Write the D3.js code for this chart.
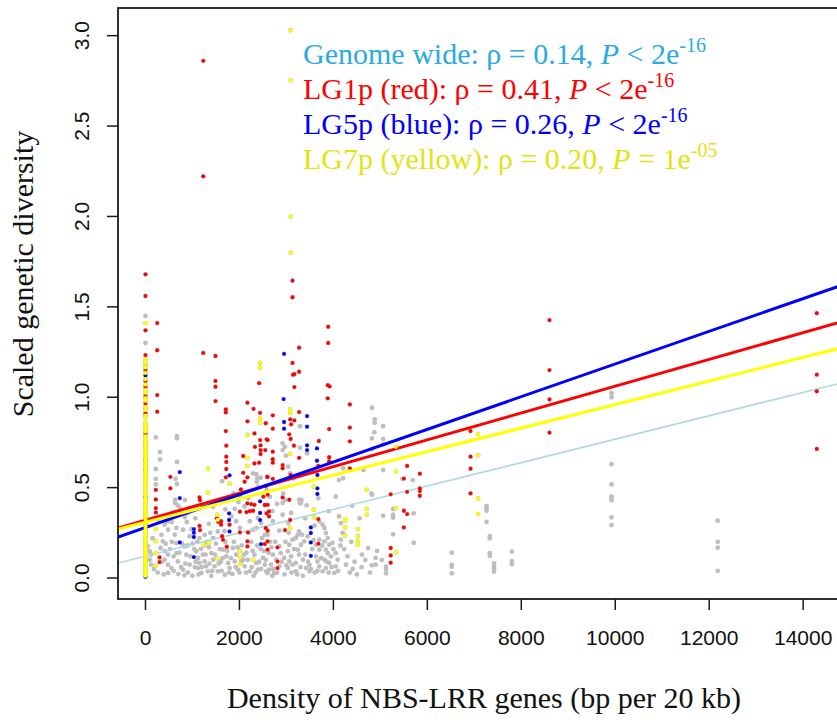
<!DOCTYPE html>
<html>
<head>
<meta charset="utf-8">
<script src="https://cdn.jsdelivr.net/npm/d3@7"></script>
<style>
  body { margin: 0; background: #fff; }
  svg { display: block; }
</style>
</head>
<body>
<svg id="chart" width="837" height="720"></svg>
<script>
// ---- data: [density of NBS-LRR genes (bp per 20 kb), scaled genetic diversity] ----

// genome-wide windows outside the three highlighted arms
const genomeOther = [
  [0,1.45],[0,1.30],[0,1.18],[0,0.94],[0,0.82],[0,0.71],[0,0.55],[0,0.37],[0,0.19],[0,0.08],
  [50,0.175],[90,0.148],[120,0.129],[90,0.101],[120,0.074],
  [220,0.778],[220,0.603],[220,0.548],[220,0.518],[310,0.697],[310,0.656],
  [670,0.785],[670,0.773],[670,0.642],[640,0.549],[670,0.52],
  [1630,0.536],[2360,0.574],[2380,0.551],[2450,0.555],
  [2920,0.745],[2970,0.726],[3290,0.84],[3290,0.721],[3440,0.69],[2920,0.708],[2990,0.677],[3040,0.616],[4210,0.607],
  [4820,0.942],[4880,0.878],[4880,0.859],[4870,0.806],[4820,0.773],[4820,0.713],[5060,0.84],[5060,0.77],[5060,0.739],
  [5060,0.597],[4640,0.597],[5470,0.548],[5690,0.542],[4810,0.468],[4820,0.461],
  [2190,0.441],[3310,0.415],[3270,0.433],[3430,0.402],[2920,0.415],[2920,0.35],[3040,0.304],[2850,0.262],[2710,0.314],
  [3700,0.314],[3770,0.295],[3810,0.277],[3840,0.249],[3880,0.221],[3810,0.203],[3910,0.184],[3840,0.157],[3880,0.138],
  [3950,0.12],[3810,0.101],[3910,0.083],[3840,0.055],[3770,0.037],[4020,0.028],[4050,0.138],[4090,0.101],[4050,0.065],
  [4160,0.212],[4120,0.341],[4160,0.304],
  [3700,0.212],[3630,0.184],[3700,0.157],[3630,0.12],[3660,0.092],[3700,0.065],[3660,0.04],[3490,0.074],[3420,0.055],
  [3350,0.101],[3270,0.129],[3240,0.157],[3310,0.184],[3380,0.203],[3200,0.221],[3240,0.239],[3270,0.258],[3130,0.212],
  [3060,0.184],[3030,0.148],[3100,0.12],[3060,0.092],[3030,0.055],[3130,0.074],[2950,0.111],[2880,0.138],[2850,0.175],
  [2780,0.101],[2710,0.129],[2670,0.074],[2630,0.046],[2600,0.028],[2740,0.028],[2850,0.065],[3200,0.083],[3200,0.037],
  [3490,0.037],[3980,0.194],[4270,0.074],
  [340,0.239],[370,0.203],[320,0.166],[410,0.148],[480,0.129],[410,0.101],[480,0.074],[550,0.055],[480,0.028],
  [660,0.194],[660,0.138],[690,0.092],[800,0.046],[830,0.175],[870,0.129],[940,0.074],[830,0.015],[1080,0.148],
  [1120,0.111],[1150,0.083],[1120,0.055],[1220,0.129],[1260,0.092],[1290,0.065],[1330,0.037],[1190,0.028],[1400,0.138],
  [1440,0.101],[1470,0.065],[1540,0.037],[1650,0.157],[1720,0.12],[1760,0.083],[1790,0.055],[1690,0.018],[1860,0.166],
  [1930,0.129],[1900,0.092],[1970,0.046],[2080,0.101],[2110,0.065],[2220,0.037],[2320,0.129],[2360,0.083],[2390,0.046],
  [2500,0.111],[2540,0.074],[2570,0.037],[2360,0.277],[2460,0.304],[2540,0.239],[2220,0.314],[2290,0.267],[2010,0.277],
  [1930,0.314],[1540,0.258],[1440,0.221],[1260,0.239],[1150,0.221],[940,0.231],[800,0.267],[660,0.277],[410,0.295],
  [480,0.267],[630,0.433],[690,0.402],[270,0.322],[480,0.314],[1830,0.341],[1900,0.383],[2110,0.397],[2390,0.332],[2570,0.36],
  [840,0.431],[630,0.415],[730,0.387],[590,0.36],[840,0.337],[880,0.31],[1440,0.394],[1590,0.422],[1870,0.468],[2010,0.45],
  [2290,0.579],[2370,0.533],[2400,0.505],[2580,0.487],[2650,0.45],[2930,0.468],[2970,0.431],[3080,0.579],[3150,0.551],
  [3320,0.431],[3290,0.413],[3680,0.441],[4120,0.542],[4210,0.551],
  [1000,0.19],[1050,0.06],[1350,0.17],[1600,0.09],[1700,0.2],[2050,0.18],[2150,0.14],[2250,0.2],[2450,0.16],[2650,0.2],
  [2700,0.012],[1000,0.012],[600,0.12],[700,0.022],[1400,0.012],[1850,0.022],[2300,0.012],[3350,0.012],[3550,0.16],
  [3450,0.23],[2600,0.24],[900,0.18],[1580,0.16],[1250,0.18],
  [150,0.22],[180,0.05],[260,0.03],[350,0.09],[390,0.02],[430,0.19],[520,0.16],[560,0.2],[600,0.04],[620,0.24],
  [720,0.14],[760,0.06],[780,0.19],[850,0.08],[900,0.03],[960,0.12],[980,0.27],[1040,0.16],[1070,0.09],[1100,0.2],
  [1130,0.02],[1180,0.16],[1200,0.06],[1280,0.13],[1310,0.2],[1360,0.08],[1380,0.25],[1420,0.04],[1480,0.13],[1500,0.19],
  [1560,0.08],[1620,0.04],[1640,0.11],[1680,0.26],[1740,0.15],[1780,0.03],[1820,0.11],[1880,0.2],[1920,0.06],[1960,0.17],
  [2000,0.03],[2040,0.09],[2100,0.13],[2140,0.03],[2180,0.1],[2200,0.25],[2260,0.06],[2280,0.15],[2340,0.03],[2380,0.18],
  [2420,0.09],[2460,0.05],[2480,0.22],[2520,0.15],[2560,0.1],[2620,0.14],[2680,0.17],[2720,0.05],[2760,0.2],[2800,0.03],
  [2900,0.09],[2960,0.02],[2980,0.2],[3000,0.07],[3050,0.25],[3110,0.03],[3160,0.16],[3230,0.02],[3300,0.06],[3330,0.24],
  [3400,0.13],[3460,0.09],[3520,0.05],[3580,0.21],[3600,0.03],[3740,0.11],[3760,0.18],[3860,0.09],[3900,0.03],[3960,0.06],
  [4000,0.16],[4100,0.04],[4150,0.18],[4350,0.03],[4380,0.2],[4500,0.02],[4680,0.1],[4780,0.03],
  [560,0.31],[900,0.36],[1060,0.33],[1200,0.4],[1350,0.3],[1700,0.38],[1980,0.42],[2700,0.37],[2800,0.41],[3100,0.36],
  [3400,0.33],[3600,0.29],[3900,0.37],[4050,0.45],[4400,0.4],
  [4230,0.16],[4300,0.12],[4450,0.09],[4410,0.05],[4600,0.06],[4610,0.13],[4740,0.165],[4820,0.07],[4930,0.15],
  [5030,0.1],[4560,0.33],[4200,0.25],[4900,0.111],[4900,0.074],
  [5060,0.345],[5120,0.063],[5120,0.05],[5120,0.026],[5270,0.382],[5270,0.334],[5270,0.242],[5270,0.35],[5710,0.358],[5710,0.195],
  [6520,0.14],[6520,0.072],[6520,0.063],[6520,0.026],
  [7260,0.398],[7260,0.386],[7260,0.372],[7260,0.311],[7330,0.232],[7330,0.22],[7330,0.137],[7330,0.123],
  [7420,0.081],[7420,0.066],[7420,0.054],[7420,0.035],[7800,0.146],[7800,0.094],[7800,0.076],
  [9920,1.022],[9920,1.0],[9920,0.63],[9920,0.518],[9920,0.45],[9920,0.44],[9920,0.43],[9920,0.336],[9920,0.293],
  [12180,0.317],[12180,0.2],[12180,0.168],[12180,0.04]
];

// LG1p windows (red)
const lg1p = [
  [0,1.68],[0,1.56],[0,1.37],[0,1.233],[0,1.15],[0,1.09],[0,1.058],[0,1.007],[0,0.966],[0,0.911],[0,0.80],[0,0.736],[0,0.653],[0,0.601],
  [1230,2.861],[1230,2.222],[3130,1.645],[3130,1.553],
  [250,1.41],[250,1.26],[250,1.012],[250,0.92],
  [1230,1.245],[1490,1.228],[3270,1.274],[3130,1.19],[3140,1.125],[3170,1.128],[3270,1.141],[1490,1.09],[1490,1.058],
  [1490,0.979],[2420,1.078],[3890,1.39],[3890,1.30],
  [3170,1.056],[3880,1.067],[3920,1.06],[3880,0.994],[3270,0.918],[2710,0.9],[2560,0.856],[3080,0.878],[3170,0.872],
  [3100,0.85],[2710,0.826],[3910,0.824],[4350,0.96],[4350,0.832],[3060,0.795],[3090,0.769],[2600,0.763],[3160,0.732],
  [3270,0.665],[3690,0.758],[4350,0.756],[2710,0.699],[2710,0.657],[2710,0.638],[2920,0.625],[2920,0.607],[2600,0.56],
  [2710,0.549],[3090,0.57],[3910,0.668],[3910,0.646],[3680,0.62],[4350,0.607],[2560,0.509],
  [220,0.488],[220,0.435],[220,0.387],[220,0.363],[530,0.56],[530,0.496],
  [1710,0.933],[1710,0.916],[1710,0.813],[1720,0.732],[1720,0.671],[1720,0.642],[1720,0.603],[1710,0.557],
  [2170,0.97],[2300,0.936],[2440,0.914],[2170,0.867],[2320,0.80],[2440,0.763],[2580,0.767],[2330,0.726],[2450,0.734],
  [2450,0.708],[2550,0.708],[2320,0.634],[2450,0.686],[2080,0.675],[2420,0.638],[2080,0.582],[2170,0.557],[2110,0.533],[2590,0.559],
  [300,0.114],[300,0.088],[1150,0.446],[1160,0.431],[1150,0.288],[1160,0.265],[1520,0.33],[1550,0.311],[1610,0.314],
  [1610,0.295],[1790,0.295],[1630,0.231],[1650,0.212],[1730,0.173],[2010,0.367],[2150,0.365],[2220,0.37],[2290,0.372],
  [2320,0.405],[2250,0.409],[2010,0.253],[2180,0.253],[2170,0.203],[2170,0.175],[2540,0.188],[2030,0.49],[2170,0.413],
  [2510,0.45],[2540,0.404],[2580,0.358],
  [2600,0.461],[2600,0.405],[2630,0.369],[2630,0.341],[2560,0.277],[2600,0.262],[2600,0.203],[2600,0.157],[2810,0.17],
  [2810,0.092],[2810,0.055],[2920,0.446],[3060,0.433],[3680,0.19],[3680,0.326],[2970,0.265],[3080,0.321],
  [5220,0.463],[5220,0.166],[5220,0.125],[5220,0.085],[5570,0.62],[5500,0.55],[5570,0.477],[5500,0.372],[5570,0.354],
  [5500,0.28],[5840,0.577],[5840,0.496],[5840,0.481],[5840,0.455],
  [6920,0.813],[6920,0.671],[6920,0.605],[6920,0.468],
  [8600,1.427],[8600,1.15],[8600,0.988],[8600,0.804],
  [14290,1.465],[14290,1.125],[14290,1.033],[14290,0.714]
];

// LG5p windows (blue)
const lg5p = [
  [0,1.12],[0,0.007],[0,0.45],[0,0.3],
  [730,0.586],[730,0.442],[730,0.197],[1030,0.271],[1030,0.251],[1030,0.227],[1030,0.116],[1790,0.568],[1780,0.358],
  [1780,0.321],[1790,0.258],[2440,0.424],[2440,0.36],[2440,0.321],[2460,0.188],[2950,1.24],[2940,0.99],[2950,0.863],
  [2950,0.826],[3440,0.896],[3440,0.837],[3440,0.734],[3440,0.708],[3650,0.717],[3650,0.649],[3660,0.57],[3660,0.496],
  [3660,0.465],[3520,0.28],[3520,0.249],[3520,0.197],[3520,0.123]
];

// LG7p windows (yellow) with non-zero density
const lg7p = [
  [3090,3.03],[3090,2.753],[3090,1.998],[3090,1.80],
  [220,0.271],[220,0.203],[220,0.138],[220,0.068],
  [1330,0.603],[1330,0.472],[1240,0.184],[1350,0.194],[1530,0.107],[1530,0.35],[1540,0.322],[1790,0.522],[2010,0.148],
  [2010,0.116],[2010,0.077],[2290,0.101],[2170,0.791],[2170,0.665],[2170,0.62],[2440,0.883],[2440,0.859],[2440,1.19],
  [2440,1.163],[3080,0.933],[3080,0.913],[3080,0.686],[3080,0.277],[3580,0.505],[3580,0.378],[3590,0.336],[4250,0.326],
  [4250,0.317],[4250,0.28],[4250,0.234],[4520,0.271],[4520,0.231],[4520,0.203],[4520,0.184],[4710,0.488],[4710,0.383],
  [4710,0.35],[5330,0.726],[5330,0.59],[5330,0.387],[5330,0.142],[7080,0.796],[7080,0.679],[7080,0.439],[7080,0.354]
];
// LG7p windows without any NBS-LRR gene (density 0): diversity values
const lg7pZeroDensity = [
  0.012,0.025,0.04,0.052,0.07,0.083,0.095,0.11,0.126,0.14,0.152,0.168,0.18,0.197,0.21,0.224,0.24,0.255,0.268,0.283,
  0.297,0.31,0.326,0.34,0.353,0.369,0.382,0.398,0.41,0.424,0.44,0.455,0.468,0.482,0.498,0.512,0.526,0.54,0.556,0.57,
  0.583,0.598,0.612,0.627,0.64,0.655,0.668,0.683,0.697,0.712,0.725,0.74,0.754,0.768,0.783,0.81,0.826,0.84,0.855,0.884,
  0.898,0.93,0.945,0.98,0.995,1.025,1.04,1.07,1.1,1.135,1.165,1.19,1.21,1.41
];

// axis ticks
const xTicks = [0, 2000, 4000, 6000, 8000, 10000, 12000, 14000];
const yTicks = [0, 0.5, 1, 1.5, 2, 2.5, 3];

// fitted lines and Spearman statistics: genome wide, LG1p, LG5p, LG7p
const fitNames = ["Genome wide", "LG1p (red)", "LG5p (blue)", "LG7p (yellow)"];
const fitRho = [0.14, 0.41, 0.26, 0.20];
const fitRelation = ["<", "<", "<", "="];
const fitPMantissa = ["2", "2", "2", "1"];
const fitPExponent = ["-16", "-16", "-16", "-05"];
const fitIntercept = [0.121, 0.320, 0.280, 0.309];
const fitSlope = [6.47e-5, 7.41e-5, 9.04e-5, 6.51e-5];

// ---- drawing ----
const svg = d3.select("#chart");
const plot = { left: 118, top: 8, right: 860, bottom: 599 };

const x = d3.scaleLinear().domain([-585, 15210]).range([plot.left, plot.right]);
const y = d3.scaleLinear().domain([-0.116, 3.153]).range([plot.bottom, plot.top]);

const serif = "'Liberation Serif', 'Times New Roman', Times, serif";
const sans = "'Liberation Sans', Arial, Helvetica, sans-serif";

svg.append("defs").append("clipPath").attr("id", "plotClip")
  .append("rect")
  .attr("x", plot.left).attr("y", plot.top)
  .attr("width", plot.right - plot.left).attr("height", plot.bottom - plot.top);

const lg7pAll = lg7pZeroDensity.map(v => [0, v]).concat(lg7p);
const genomeAll = genomeOther.concat(lg1p, lg5p, lg7pAll);

const layer = svg.append("g").attr("clip-path", "url(#plotClip)");

function drawPoints(data, color, r) {
  layer.append("g").selectAll("circle").data(data).join("circle")
    .attr("cx", d => x(d[0])).attr("cy", d => y(d[1]))
    .attr("r", r).attr("fill", color);
}
function drawFit(i, color, width) {
  const xs = x.domain();
  layer.append("line")
    .attr("x1", x(xs[0])).attr("y1", y(fitIntercept[i] + fitSlope[i] * xs[0]))
    .attr("x2", x(xs[1])).attr("y2", y(fitIntercept[i] + fitSlope[i] * xs[1]))
    .attr("stroke", color).attr("stroke-width", width);
}

drawPoints(genomeAll, "#bebebe", 2.4);
drawFit(0, "#add8e6", 1.5);
drawPoints(lg1p, "#ff0000", 1.9);
drawFit(1, "#ff0000", 3);
drawPoints(lg5p, "#0000ff", 1.9);
drawFit(2, "#0000ff", 3);
drawPoints(lg7pAll, "#ffff00", 2.1);
drawFit(3, "#ffff00", 3);

// frame
svg.append("rect")
  .attr("x", plot.left).attr("y", plot.top)
  .attr("width", plot.right - plot.left).attr("height", plot.bottom - plot.top)
  .attr("fill", "none").attr("stroke", "#1a1a1a").attr("stroke-width", 1.8);

// x axis
const gx = svg.append("g");
gx.selectAll("line").data(xTicks).join("line")
  .attr("x1", d => x(d)).attr("x2", d => x(d))
  .attr("y1", plot.bottom).attr("y2", plot.bottom + 11)
  .attr("stroke", "#1a1a1a").attr("stroke-width", 1.5);
gx.selectAll("text").data(xTicks).join("text")
  .attr("x", d => x(d)).attr("y", 645)
  .attr("text-anchor", "middle")
  .attr("font-family", sans).attr("font-size", 21).attr("fill", "#111")
  .text(d => String(d));

// y axis
const gy = svg.append("g");
gy.selectAll("line").data(yTicks).join("line")
  .attr("x1", plot.left - 11).attr("x2", plot.left)
  .attr("y1", d => y(d)).attr("y2", d => y(d))
  .attr("stroke", "#1a1a1a").attr("stroke-width", 1.5);
gy.selectAll("text").data(yTicks).join("text")
  .attr("transform", d => `translate(89,${y(d)}) rotate(-90)`)
  .attr("text-anchor", "middle")
  .attr("font-family", sans).attr("font-size", 21).attr("fill", "#111")
  .text(d => d3.format(".1f")(d));

// axis titles
svg.append("text")
  .attr("x", 484).attr("y", 708)
  .attr("text-anchor", "middle")
  .attr("font-family", serif).attr("font-size", 30).attr("fill", "#111")
  .text("Density of NBS-LRR genes (bp per 20 kb)");
svg.append("text")
  .attr("transform", "translate(33,274) rotate(-90)")
  .attr("text-anchor", "middle")
  .attr("font-family", serif).attr("font-size", 30).attr("fill", "#111")
  .text("Scaled genetic diversity");

// statistics legend
const legendColors = ["#29abe2", "#ff0000", "#0000ff", "#e3e312"];
const legend = svg.append("g").attr("font-family", serif).attr("font-size", 30);
fitNames.forEach((name, i) => {
  const t = legend.append("text")
    .attr("x", 303).attr("y", 64 + i * 35)
    .attr("fill", legendColors[i]);
  t.append("tspan").text(`${name}: ρ = ${fitRho[i].toFixed(2)}, `);
  t.append("tspan").attr("font-style", "italic").text("P");
  t.append("tspan").text(` ${fitRelation[i]} ${fitPMantissa[i]}e`);
  t.append("tspan").attr("font-size", 20).attr("dy", -12).text(fitPExponent[i]);
});
</script>
</body>
</html>
